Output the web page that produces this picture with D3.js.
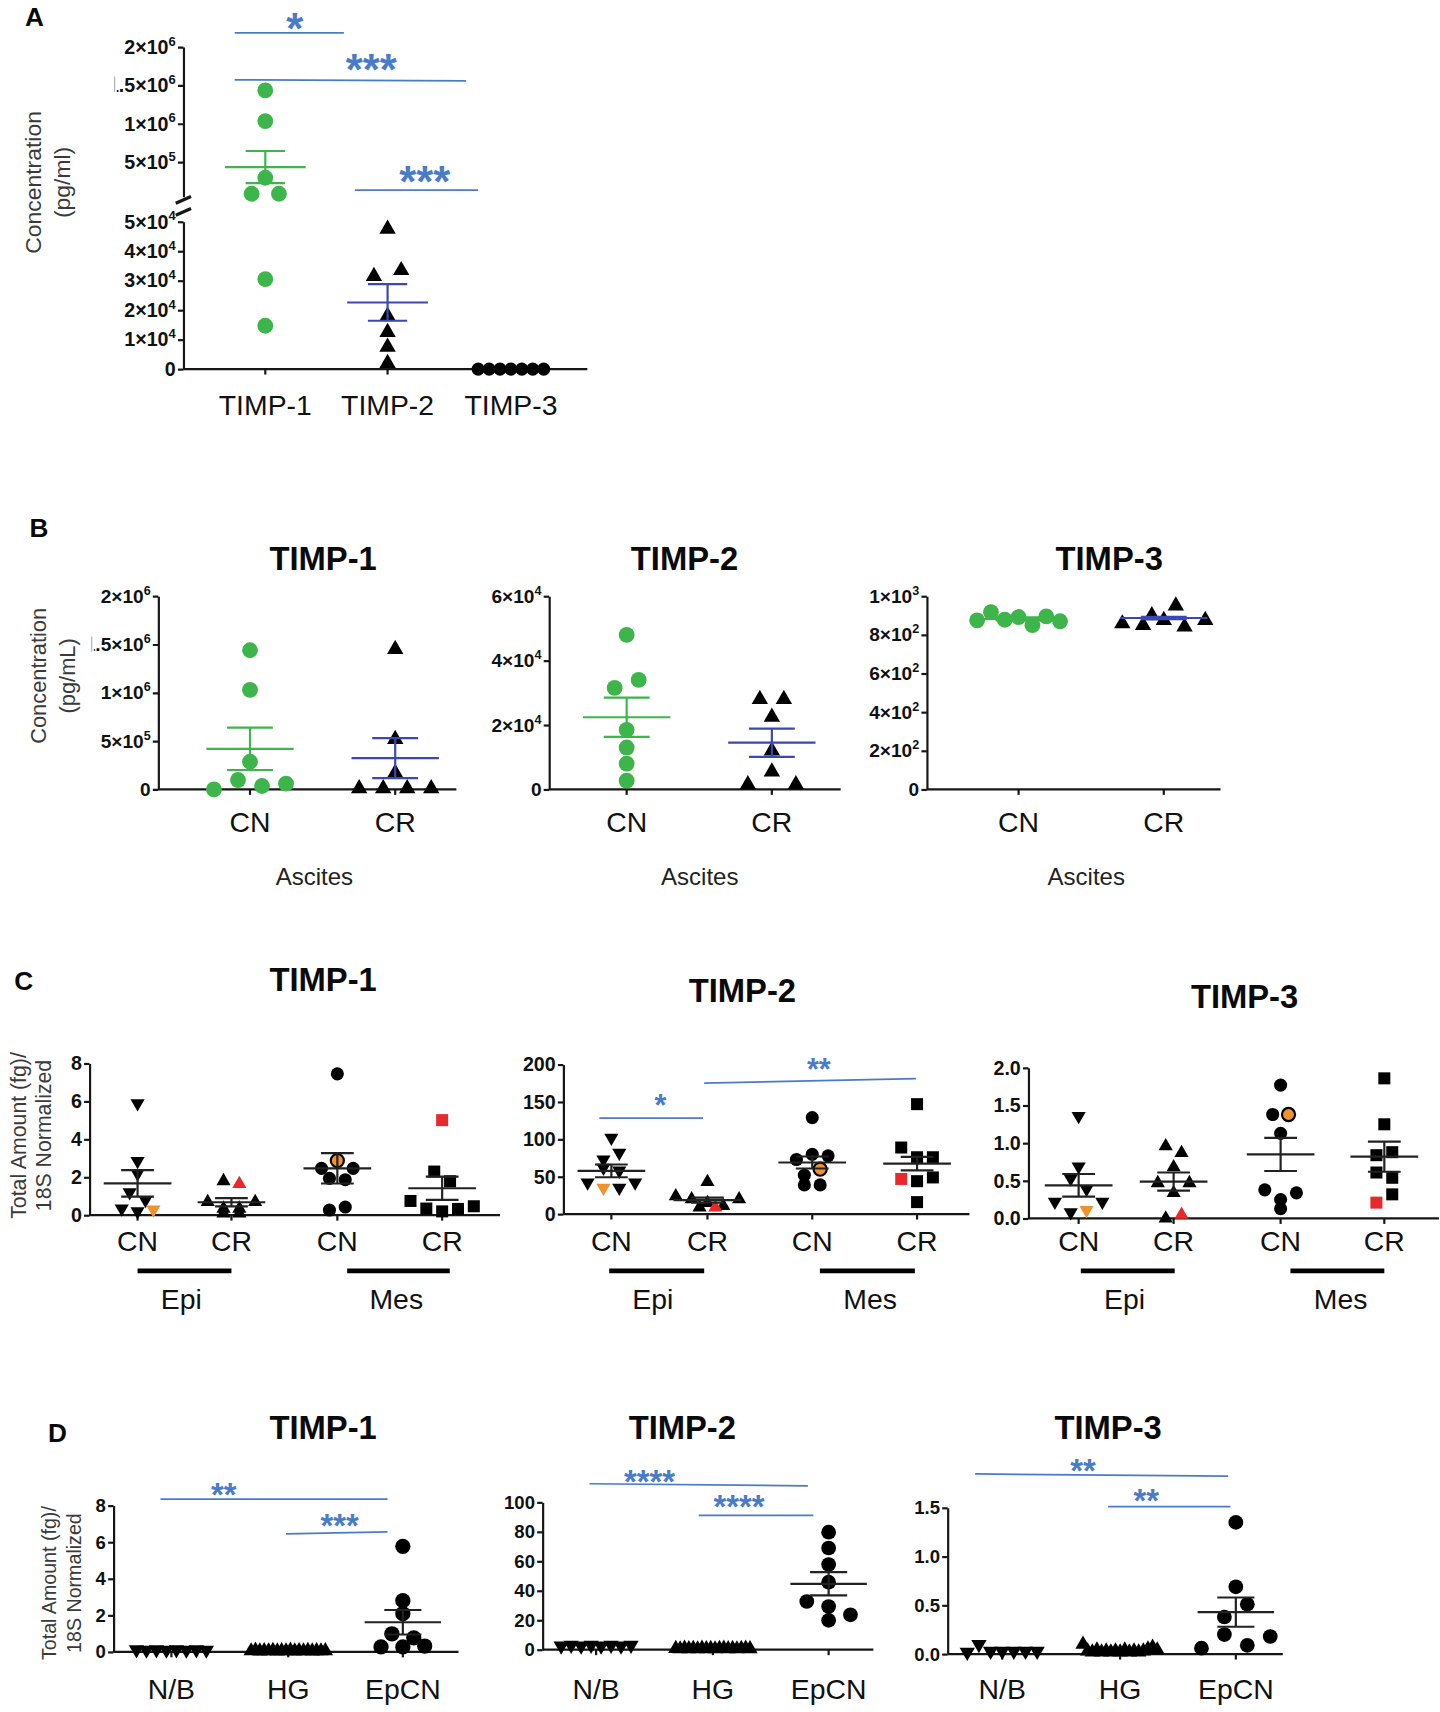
<!DOCTYPE html>
<html><head><meta charset="utf-8">
<script src="https://cdn.jsdelivr.net/npm/d3@7"></script>
<style>body{margin:0;background:#fff}svg{display:block}</style>
</head><body>
<svg id="c" width="1440" height="1712" viewBox="0 0 1319 1568"></svg>
<script>
// ================= DATA =================
const timpLabels = ["TIMP-1","TIMP-2","TIMP-3"];
const groupsB = ["CN","CR"];
const groupsC = ["CN","CR","CN","CR"];
const cellTypesC = ["Epi","Mes"];
const groupsD = ["N/B","HG","EpCN"];

// Panel A (pg/ml)
const A_TIMP1 = [1.435e6, 1.035e6, 2.96e5, 8.7e4, 8.7e4, 3.05e4, 1.47e4];
const A_TIMP2 = [4.75e4, 3.15e4, 3.35e4, 1.8e4, 1.25e4, 0.75e4, 0.2e4];
const A_TIMP3 = [0, 0, 0, 0, 0, 0, 0];
const A_mean = [4.35e5, 2.26e4, 0];
const A_sem  = [2.09e5, 6.2e3, 0];
const A_ticksUpper = [5e5, 1e6, 1.5e6, 2e6];
const A_ticksLower = [0, 1e4, 2e4, 3e4, 4e4, 5e4];
const A_sigLabels = ["*", "***", "***"];

// Panel B (pg/mL)
const B1_CN = [1.44e6, 1.03e6, 2.86e5, 0, 0.97e5, 0.35e5, 0.6e5];
const B1_CR = [1.45e6, 5.2e5, 1.7e5, 1e4, 1e4, 1e4, 1e4];
const B1_mean = [4.2e5, 3.24e5];
const B1_sem  = [2.19e5, 2.07e5];
const B1_ticks = [0, 5e5, 1e6, 1.5e6, 2e6];
const B2_CN = [4.8e4, 3.15e4, 3.4e4, 1.85e4, 1.3e4, 0.8e4, 0.27e4];
const B2_CR = [2.8e4, 2.8e4, 2.25e4, 1.2e4, 0.15e4, 0.55e4, 0.15e4];
const B2_mean = [2.24e4, 1.45e4];
const B2_sem  = [0.61e4, 0.44e4];
const B2_ticks = [0, 2e4, 4e4, 6e4];
const B3_CN = [875, 917, 878, 892, 850, 895, 870];
const B3_CR = [858, 900, 950, 850, 875, 842, 875];
const B3_mean = [882, 887];
const B3_sem  = [8, 6];
const B3_ticks = [0, 200, 400, 600, 800, 1000];

// Panel C (fg / 18S)  groups: CN Epi, CR Epi, CN Mes, CR Mes
const C1_CN_Epi = [5.9, 2.85, 2.2, 1.2, 0.8, 0.35, 0.2, 0.3];
const C1_CR_Epi = [1.8, 1.65, 0.7, 0.35, 0.1, 0.1, 0.35, 0.7];
const C1_CN_Mes = [7.45, 2.47, 2.88, 2.47, 1.94, 1.87, 0.27, 0.43];
const C1_CR_Mes = [5.01, 2.3, 1.79, 0.75, 0.35, 0.2, 0.33, 0.47];
const C1_highlight = [7, 1, 2, 0];
const C1_mean = [1.68, 0.68, 2.47, 1.42];
const C1_sem  = [0.7, 0.22, 0.8, 0.61];
const C1_ticks = [0, 2, 4, 6, 8];

const C2_CN_Epi = [102, 73, 82, 62, 58, 42, 35, 35, 42];
const C2_CR_Epi = [43, 24, 20, 15, 11, 20, 9, 9];
const C2_CN_Mes = [129, 73, 80, 78, 52, 60, 39, 39];
const C2_CR_Mes = [147, 89, 76, 76, 47, 44, 49, 16];
const C2_highlight = [6, 7, 5, 4];
const C2_mean = [57.8, 18.7, 69, 67.5];
const C2_sem  = [8.5, 3.3, 8, 9];
const C2_ticks = [0, 50, 100, 150, 200];
const C2_sigLabels = ["*", "**"];

const C3_CN_Epi = [1.36, 0.69, 0.53, 0.39, 0.22, 0.08, 0.11, 0.22];
const C3_CR_Epi = [0.96, 0.87, 0.68, 0.47, 0.34, 0.47, 0.0, 0.05];
const C3_CN_Mes = [1.77, 1.38, 1.38, 1.13, 0.38, 0.25, 0.34, 0.13];
const C3_CR_Mes = [1.86, 1.25, 0.84, 0.88, 0.61, 0.54, 0.21, 0.32];
const C3_highlight = [6, 7, 2, 6];
const C3_mean = [0.44, 0.49, 0.85, 0.82];
const C3_sem  = [0.15, 0.12, 0.22, 0.2];
const C3_ticks = [0, 0.5, 1.0, 1.5, 2.0];

// Panel D
const D1_NB = [0.12, 0.1, 0.12, 0.1, 0.12, 0.1, 0.12, 0.1];
const D1_HG = [0.05, 0.08, 0.04, 0.06, 0.05, 0.07, 0.04, 0.06, 0.05, 0.08, 0.04, 0.06, 0.05, 0.07, 0.04, 0.06, 0.05, 0.06];
const D1_EpCN = [5.77, 2.8, 2.09, 0.99, 0.77, 0.27, 0.27, 0.32];
const D1_mean = 1.62, D1_sem = 0.67;
const D1_ticks = [0, 2, 4, 6, 8];
const D1_sigLabels = ["**", "***"];

const D2_NB = [2.5, 3, 2.5, 3, 2.5, 3, 2.5, 3];
const D2_HG = [0.8, 0.5, 0.9, 0.6, 0.7, 0.5, 0.9, 0.6, 0.8, 0.5, 0.7, 0.9, 0.6, 0.8, 0.5, 0.7, 0.9, 0.6];
const D2_EpCN = [79.7, 69, 57.8, 45.8, 32.7, 29.3, 23.7, 19.9];
const D2_mean = 44.7, D2_sem = 7.9;
const D2_ticks = [0, 20, 40, 60, 80, 100];
const D2_sigLabels = ["****", "****"];

const D3_NB = [0.02, 0.1, 0.03, 0.03, 0.03, 0.03, 0.03];
const D3_HG = [0.1, 0.03, 0.02, 0.04, 0.02, 0.03, 0.02, 0.03, 0.02, 0.04, 0.02, 0.03, 0.02, 0.03, 0.05, 0.07, 0.04];
const D3_EpCN = [1.35, 0.69, 0.38, 0.51, 0.06, 0.2, 0.09, 0.18];
const D3_mean = 0.43, D3_sem = 0.15;
const D3_ticks = [0, 0.5, 1.0, 1.5];
const D3_sigLabels = ["**", "**"];

// ================= DRAWING =================
const svg = d3.select("#c");
const F = "'Liberation Sans', Arial, Helvetica, sans-serif";
const GREEN = "#3db54a", BLUE = "#3a47b5", SIG = "#4a7bc9", AX = "#161616";
const ORANGE = "#f0922e", RED = "#e8282a";
const defs = svg.append("defs");

function txt(g, x, y, s, o = {}) {
  return g.append("text").attr("x", x).attr("y", y).text(s)
    .attr("font-family", F).attr("font-size", o.size || 20)
    .attr("font-weight", o.weight || "normal")
    .attr("text-anchor", o.anchor || "middle").attr("fill", o.fill || "#111");
}
function vtitle(g, xs, cy, lines, size) {
  lines.forEach((l, i) => {
    g.append("text").attr("transform", `translate(${xs[i]},${cy}) rotate(-90)`)
      .attr("text-anchor", "middle").attr("dominant-baseline", "central")
      .attr("font-family", F).attr("font-size", size).attr("fill", "#3a3a3a").text(l);
  });
}
function sciParts(v) {
  if (v === 0) return null;
  const e = Math.floor(Math.log10(v) + 1e-9);
  const m = +(v / Math.pow(10, e)).toFixed(2);
  return [m + "×10", String(e)];
}
function yAxis(g, x, y, ticks, fmt, size, sci) {
  const ax = d3.axisLeft(y).tickValues(ticks).tickSize(5).tickSizeOuter(0).tickPadding(2)
    .tickFormat(sci ? () => "" : fmt);
  const a = g.append("g").attr("transform", `translate(${x},0)`).call(ax);
  a.select(".domain").attr("stroke", AX).attr("stroke-width", 2);
  a.selectAll(".tick line").attr("stroke", AX).attr("stroke-width", 2);
  a.selectAll(".tick text").attr("font-family", F).attr("font-size", size)
    .attr("font-weight", "bold").attr("fill", "#111");
  if (sci) {
    a.selectAll(".tick text").each(function (d) {
      const t = d3.select(this); const p = sciParts(d);
      if (!p) { t.text("0"); return; }
      t.append("tspan").text(p[0]);
      t.append("tspan").attr("dy", -size * 0.42).attr("font-size", size * 0.66).text(p[1]);
    });
  }
  return a;
}
function xAxis(g, x0, x1, yb, xs, labels, size, labelY) {
  g.append("line").attr("x1", x0).attr("x2", x1).attr("y1", yb).attr("y2", yb)
    .attr("stroke", AX).attr("stroke-width", 2);
  xs.forEach((x, i) => {
    g.append("line").attr("x1", x).attr("x2", x).attr("y1", yb).attr("y2", yb + 5)
      .attr("stroke", AX).attr("stroke-width", 2);
    txt(g, x, labelY, labels[i], { size: size, fill: "#111" });
  });
}
function symPath(shape, w) {
  if (shape === "circle") return d3.symbol(d3.symbolCircle, Math.PI * (w / 2) ** 2)();
  if (shape === "square") return d3.symbol(d3.symbolSquare, w * w)();
  return d3.symbol(d3.symbolTriangle, Math.sqrt(3) / 4 * w * w)();
}
// row-based scatter layout (GraphPad-like)
function layout(vals, y, cx, thr, step, maxHalf) {
  const pts = vals.map((v, i) => ({ v, i, py: y(v) }));
  const sorted = pts.slice().sort((a, b) => a.py - b.py || a.i - b.i);
  const rows = []; let cur = null;
  for (const p of sorted) {
    if (!cur || p.py - cur.y0 > thr) { cur = { y0: p.py, pts: [] }; rows.push(cur); }
    cur.pts.push(p);
  }
  for (const r of rows) {
    r.pts.sort((a, b) => a.i - b.i);
    const n = r.pts.length; let s = step;
    if (n > 1 && (n - 1) * s / 2 > maxHalf) s = 2 * maxHalf / (n - 1);
    r.pts.forEach((p, k) => p.px = cx + (k - (n - 1) / 2) * s);
  }
  return pts;
}
function scatter(g, vals, y, cx, o) {
  const pts = layout(vals, y, cx, o.thr, o.step, o.maxHalf);
  const path = symPath(o.shape, o.w);
  pts.forEach(p => {
    const hl = o.hl === p.i;
    g.append("path").attr("d", path)
      .attr("transform", `translate(${p.px},${p.py})` + (o.shape === "tridown" ? " rotate(180)" : ""))
      .attr("fill", hl ? o.hlColor : o.color)
      .attr("stroke", hl && o.hlStroke ? o.hlStroke : "none")
      .attr("stroke-width", hl && o.hlStroke ? 2 : 0);
  });
}
function meanSem(g, cx, y, m, s, mh, ch, color, lw) {
  const st = (sel) => sel.attr("stroke", color).attr("stroke-width", lw || 2);
  st(g.append("line").attr("x1", cx - mh).attr("x2", cx + mh).attr("y1", y(m)).attr("y2", y(m)));
  st(g.append("line").attr("x1", cx).attr("x2", cx).attr("y1", y(m - s)).attr("y2", y(m + s)));
  [m - s, m + s].forEach(v => st(g.append("line").attr("x1", cx - ch).attr("x2", cx + ch).attr("y1", y(v)).attr("y2", y(v))));
}
function sig(g, x1, y1, x2, y2, label, tx, ty, size) {
  g.append("line").attr("x1", x1).attr("x2", x2).attr("y1", y1).attr("y2", y2)
    .attr("stroke", SIG).attr("stroke-width", 1.6);
  g.append("text").attr("x", tx).attr("y", ty + size * 0.57).attr("text-anchor", "middle")
    .attr("font-family", F).attr("font-size", size).attr("font-weight", "bold")
    .attr("fill", SIG).text(label);
}
function title(g, x, y, s) { txt(g, x, y, s, { size: 30, weight: "bold", fill: "#0a0a0a" }); }
function letter(g, x, y, s) { txt(g, x, y, s, { size: 24, weight: "bold", anchor: "start", fill: "#0a0a0a" }); }

// ---------------- PANEL A ----------------
{
  const g = svg.append("g");
  letter(g, 23, 24, "A");
  const x = d3.scaleOrdinal().domain(timpLabels).range([243, 355, 468]);
  const yUp = d3.scaleLinear().domain([5e4, 2e6]).range([180, 43]);
  const yLo = d3.scaleLinear().domain([0, 5e4]).range([338, 203]);
  const y = v => v > 5e4 ? yUp(v) : yLo(v);
  defs.append("clipPath").attr("id", "clipA").append("rect")
    .attr("x", 107).attr("y", 0).attr("width", 120).attr("height", 400);
  const ga = g.append("g").attr("clip-path", "url(#clipA)");
  yAxis(ga, 168, yUp, A_ticksUpper, null, 18, true);
  yAxis(g, 168, yLo, A_ticksLower, null, 18, true);
  g.append("line").attr("x1", 105).attr("x2", 105).attr("y1", 70).attr("y2", 84).attr("stroke", "#aaa").attr("stroke-width", 1);
  // axis break
  [[186, 180], [197, 191]].forEach(([a, b]) => g.append("line").attr("x1", 161).attr("x2", 175)
    .attr("y1", a).attr("y2", b).attr("stroke", AX).attr("stroke-width", 3));
  xAxis(g, 168, 538, 338, timpLabels.map(d => x(d)), timpLabels, 26, 380);
  vtitle(g, [30, 57], 167, ["Concentration", "(pg/ml)"], 21);
  const o = { thr: 12, step: 25, maxHalf: 30 };
  scatter(g, A_TIMP1, y, x("TIMP-1"), { ...o, shape: "circle", w: 14.5, color: GREEN });
  scatter(g, A_TIMP2, y, x("TIMP-2"), { ...o, shape: "tri", w: 15, color: "#000" });
  scatter(g, A_TIMP3, y, x("TIMP-3"), { ...o, step: 11, shape: "circle", w: 12, color: "#000" });
  const mcol = [GREEN, BLUE, "#000"];
  timpLabels.forEach((c, i) => { if (A_sem[i] > 0) meanSem(g, x(c), y, A_mean[i], A_sem[i], 37, 18, mcol[i], 2); });
  sig(g, 215, 30, 315, 30, A_sigLabels[0], 270, 17, 40);
  sig(g, 215, 73, 427, 74, A_sigLabels[1], 340, 55, 40);
  sig(g, 325, 174, 438, 174, A_sigLabels[2], 389, 158, 40);
}

// ---------------- PANEL B ----------------
{
  const g = svg.append("g");
  letter(g, 27, 492, "B");
  const cfg = [
    { x0: 145, x1: 418, cats: [229, 362], d: [0, 2e6], ticks: B1_ticks, CN: B1_CN, CR: B1_CR, m: B1_mean, s: B1_sem, t: 296, asc: 288, clip: 86 },
    { x0: 503, x1: 770, cats: [574, 707], d: [0, 6e4], ticks: B2_ticks, CN: B2_CN, CR: B2_CR, m: B2_mean, s: B2_sem, t: 627, asc: 641 },
    { x0: 849, x1: 1118, cats: [933, 1066], d: [0, 1000], ticks: B3_ticks, CN: B3_CN, CR: B3_CR, m: B3_mean, s: B3_sem, t: 1016, asc: 995 }
  ];
  cfg.forEach((c, k) => {
    const y = d3.scaleLinear().domain(c.d).range([723, 546]);
    let ga = g;
    if (c.clip) {
      defs.append("clipPath").attr("id", "clipB").append("rect")
        .attr("x", c.clip).attr("y", 500).attr("width", 200).attr("height", 300);
      ga = g.append("g").attr("clip-path", "url(#clipB)");
      g.append("line").attr("x1", c.clip - 2).attr("x2", c.clip - 2).attr("y1", 583).attr("y2", 597).attr("stroke", "#aaa").attr("stroke-width", 1);
    }
    yAxis(ga, c.x0, y, c.ticks, null, 17.5, true);
    xAxis(g, c.x0, c.x1, 723, c.cats, groupsB, 26, 762);
    title(g, c.t, 522, timpLabels[k]);
    txt(g, c.asc, 811, "Ascites", { size: 22, fill: "#222" });
    const o = { thr: 12.6, step: 22, maxHalf: 38 };
    scatter(g, c.CN, y, c.cats[0], { ...o, shape: "circle", w: 14.5, color: GREEN });
    scatter(g, c.CR, y, c.cats[1], { ...o, shape: "tri", w: 15, color: "#000" });
    meanSem(g, c.cats[0], y, c.m[0], c.s[0], 40, 21, GREEN, 2);
    meanSem(g, c.cats[1], y, c.m[1], c.s[1], 40, 21, BLUE, 2);
  });
  vtitle(g, [35, 62], 619, ["Concentration", "(pg/mL)"], 20);
}

// ---------------- PANEL C ----------------
{
  const g = svg.append("g");
  letter(g, 13, 907, "C");
  const cfg = [
    { x0: 82, x1: 458, top: 974, bot: 1113, cats: [126, 212, 309, 405], d: [0, 8], ticks: C1_ticks, fmt: d3.format("d"),
      data: [C1_CN_Epi, C1_CR_Epi, C1_CN_Mes, C1_CR_Mes], hl: C1_highlight, m: C1_mean, s: C1_sem, t: [296, 908],
      bars: [[126, 212], [318, 412]], lab: [166, 363] },
    { x0: 516, x1: 888, top: 975, bot: 1112, cats: [560, 648, 744, 840], d: [0, 200], ticks: C2_ticks, fmt: d3.format("d"),
      data: [C2_CN_Epi, C2_CR_Epi, C2_CN_Mes, C2_CR_Mes], hl: C2_highlight, m: C2_mean, s: C2_sem, t: [680, 918],
      bars: [[558, 645], [751, 838]], lab: [598, 797] },
    { x0: 942, x1: 1318, top: 978, bot: 1116, cats: [988, 1075, 1173, 1268], d: [0, 2], ticks: C3_ticks, fmt: d3.format(".1f"),
      data: [C3_CN_Epi, C3_CR_Epi, C3_CN_Mes, C3_CR_Mes], hl: C3_highlight, m: C3_mean, s: C3_sem, t: [1140, 923],
      bars: [[990, 1076], [1182, 1268]], lab: [1030, 1228] }
  ];
  const shapes = ["tridown", "tri", "circle", "square"];
  const widths = [13, 13, 12, 11];
  const hlCol = [ORANGE, RED, ORANGE, RED];
  const hlStroke = [null, null, "#000", null];
  cfg.forEach((c, k) => {
    const y = d3.scaleLinear().domain(c.d).range([c.bot, c.top]);
    yAxis(g, c.x0, y, c.ticks, c.fmt, 18, false);
    xAxis(g, c.x0, c.x1, c.bot, c.cats, groupsC, 26, 1146);
    title(g, c.t[0], c.t[1], timpLabels[k]);
    c.bars.forEach((b, i) => {
      g.append("line").attr("x1", b[0]).attr("x2", b[1]).attr("y1", 1164).attr("y2", 1164)
        .attr("stroke", "#000").attr("stroke-width", 4.5);
      txt(g, c.lab[i], 1199, cellTypesC[i], { size: 26, fill: "#111" });
    });
    c.data.forEach((vals, i) => {
      scatter(g, vals, y, c.cats[i], { thr: 10, step: 14.5, maxHalf: 30, shape: shapes[i], w: widths[i], color: "#000",
        hl: c.hl[i], hlColor: hlCol[i], hlStroke: hlStroke[i] });
    });
    c.data.forEach((vals, i) => meanSem(g, c.cats[i], y, c.m[i], c.s[i], 31, 15, "#222", 2));
  });
  vtitle(g, [17, 40], 1040, ["Total Amount (fg)/", "18S Normalized"], 19.5);
  sig(g, 549, 1024, 644, 1024, C2_sigLabels[0], 605, 1006, 28);
  sig(g, 645, 992, 839, 988, C2_sigLabels[1], 750, 973, 28);
}

// ---------------- PANEL D ----------------
{
  const g = svg.append("g");
  letter(g, 44, 1321, "D");
  const cfg = [
    { x0: 104, x1: 420, top: 1379, bot: 1513, cats: [157, 264, 369], d: [0, 8], ticks: D1_ticks, fmt: d3.format("d"),
      data: [D1_NB, D1_HG, D1_EpCN], m: D1_mean, s: D1_sem, t: 296, w: 14, thr: 10, step: 20 },
    { x0: 497, x1: 800, top: 1376, bot: 1511, cats: [546, 653, 759], d: [0, 100], ticks: D2_ticks, fmt: d3.format("d"),
      data: [D2_NB, D2_HG, D2_EpCN], m: D2_mean, s: D2_sem, t: 625, w: 13.5, thr: 13, step: 20 },
    { x0: 868, x1: 1175, top: 1381, bot: 1515, cats: [918, 1026, 1132], d: [0, 1.5], ticks: D3_ticks, fmt: d3.format(".1f"),
      data: [D3_NB, D3_HG, D3_EpCN], m: D3_mean, s: D3_sem, t: 1015, w: 13.5, thr: 13, step: 21 }
  ];
  cfg.forEach((c, k) => {
    const y = d3.scaleLinear().domain(c.d).range([c.bot, c.top]);
    yAxis(g, c.x0, y, c.ticks, c.fmt, 17, false);
    xAxis(g, c.x0, c.x1, c.bot, c.cats, groupsD, 26, 1556);
    title(g, c.t, 1318, timpLabels[k]);
    scatter(g, c.data[0], y, c.cats[0], { thr: 10, step: 12, maxHalf: 32, shape: "tridown", w: 14, color: "#000" });
    scatter(g, c.data[1], y, c.cats[1], { thr: 10, step: 12, maxHalf: 34, shape: "tri", w: 14, color: "#000" });
    scatter(g, c.data[2], y, c.cats[2], { thr: c.thr, step: c.step, maxHalf: 34, shape: "circle", w: c.w, color: "#000" });
    meanSem(g, c.cats[2], y, c.m, c.s, 35, 17, "#222", 2);
  });
  vtitle(g, [45, 68], 1450, ["Total Amount (fg)/", "18S Normalized"], 18);
  sig(g, 147, 1373, 355, 1373, D1_sigLabels[0], 205, 1362, 30);
  sig(g, 262, 1405, 355, 1403, D1_sigLabels[1], 311, 1391, 30);
  sig(g, 540, 1359, 740, 1361, D2_sigLabels[0], 595, 1350, 30);
  sig(g, 640, 1388, 745, 1388, D2_sigLabels[1], 677, 1373, 30);
  sig(g, 893, 1350, 1125, 1352, D3_sigLabels[0], 992, 1340, 30);
  sig(g, 1015, 1380, 1127, 1380, D3_sigLabels[1], 1050, 1368, 30);
}
</script>
</body></html>
